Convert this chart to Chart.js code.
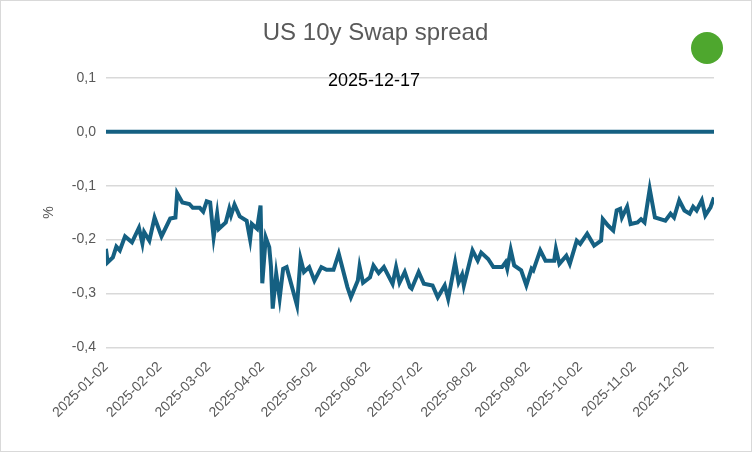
<!DOCTYPE html>
<html><head><meta charset="utf-8">
<script src="https://cdn.jsdelivr.net/npm/chart.js@4"></script>
<style>html,body{margin:0;background:#fff}#w{position:absolute;left:0;top:0;width:750px;height:450px;border:1px solid #d9d9d9}</style>
</head><body><div id="w"><canvas id="c"></canvas></div>
<script>
const dayOffsets=[0,1,4,6,8,11,15,19,21,22,25,28,32,37,40,41,44,48,50,54,56,58,60,62,64,65,69,71,72,74,77,81,83,84,87,89,90,92,94,95,96,98,100,102,104,110,112,114,117,120,124,127,131,134,139,141,145,146,148,152,154,157,160,165,167,169,172,175,176,180,183,188,191,195,197,201,203,205,206,211,214,216,220,223,228,230,231,233,235,239,242,245,246,250,253,258,259,261,265,267,271,273,277,281,285,286,289,292,294,296,297,300,302,306,308,310,313,316,322,325,327,330,333,336,338,340,343,345,348,350];
const spread=[-0.217,-0.242,-0.233,-0.213,-0.220,-0.194,-0.205,-0.178,-0.207,-0.186,-0.202,-0.159,-0.194,-0.161,-0.159,-0.114,-0.131,-0.134,-0.141,-0.141,-0.148,-0.129,-0.131,-0.196,-0.152,-0.180,-0.168,-0.143,-0.155,-0.135,-0.157,-0.165,-0.200,-0.171,-0.180,-0.137,-0.281,-0.196,-0.214,-0.250,-0.328,-0.263,-0.309,-0.254,-0.251,-0.322,-0.235,-0.260,-0.251,-0.276,-0.251,-0.256,-0.256,-0.226,-0.288,-0.307,-0.276,-0.250,-0.280,-0.270,-0.248,-0.262,-0.251,-0.282,-0.251,-0.280,-0.260,-0.288,-0.291,-0.260,-0.282,-0.285,-0.307,-0.285,-0.310,-0.242,-0.279,-0.265,-0.285,-0.220,-0.239,-0.224,-0.236,-0.251,-0.251,-0.242,-0.254,-0.219,-0.248,-0.257,-0.285,-0.254,-0.257,-0.220,-0.239,-0.239,-0.217,-0.245,-0.230,-0.245,-0.202,-0.208,-0.189,-0.211,-0.202,-0.162,-0.174,-0.183,-0.146,-0.143,-0.159,-0.139,-0.171,-0.168,-0.162,-0.168,-0.106,-0.159,-0.165,-0.152,-0.159,-0.127,-0.146,-0.152,-0.139,-0.146,-0.127,-0.155,-0.140,-0.122];
const tickDays=[0,31,59,90,120,151,181,212,243,273,304,334];
const tickLabels=["2025-01-02","2025-02-02","2025-03-02","2025-04-02","2025-05-02","2025-06-02","2025-07-02","2025-08-02","2025-09-02","2025-10-02","2025-11-02","2025-12-02"];
const yTicks=[0.1,0,-0.1,-0.2,-0.3,-0.4];
const zeroLine=[0,0];
const zeroDays=[0,350];
const c=document.getElementById('c');c.width=750;c.height=450;
const overlay={id:'ov',afterDraw(ch){const x=ch.ctx;x.save();
x.fillStyle='#000';x.font='18px "Liberation Sans", Arial';x.textAlign='center';x.textBaseline='middle';x.fillText('2025-12-17',373,80);
x.fillStyle='#4ea72e';x.beginPath();x.arc(706,47,16,0,Math.PI*2);x.fill();x.restore();}};
new Chart(c,{type:'line',data:{datasets:[
{data:zeroDays.map((d,i)=>({x:d,y:zeroLine[i]})),borderColor:'#156082',borderWidth:4,pointRadius:0},
{data:dayOffsets.map((d,i)=>({x:d,y:spread[i]})),borderColor:'#156082',borderWidth:4,pointRadius:0,tension:0}]},
plugins:[overlay],
options:{responsive:false,animation:false,layout:{padding:{left:36,right:37,top:8,bottom:27}},
plugins:{legend:{display:false},tooltip:{enabled:false},title:{display:true,text:'US 10y Swap spread',color:'#595959',font:{size:24,family:'"Liberation Sans", Arial',weight:'normal'},padding:{top:10,bottom:30}}},
scales:{x:{type:'linear',min:0,max:350,grid:{display:false},border:{display:false},
afterBuildTicks(a){a.ticks=tickDays.map(v=>({value:v}));},
ticks:{autoSkip:false,maxRotation:45,minRotation:45,color:'#595959',font:{size:14,family:'"Liberation Sans", Arial'},callback:(v)=>tickLabels[tickDays.indexOf(v)]}},
y:{min:-0.4,max:0.1,afterBuildTicks(a){a.ticks=yTicks.map(v=>({value:v}));},
grid:{color:'#d9d9d9',lineWidth:1.5,drawTicks:false},border:{display:false},
title:{display:true,text:'%',color:'#595959',font:{size:14,family:'"Liberation Sans", Arial'}},
ticks:{padding:10,color:'#595959',font:{size:14,family:'"Liberation Sans", Arial'},callback:v=>v.toFixed(1).replace('.',',')}}}}});
</script></body></html>
